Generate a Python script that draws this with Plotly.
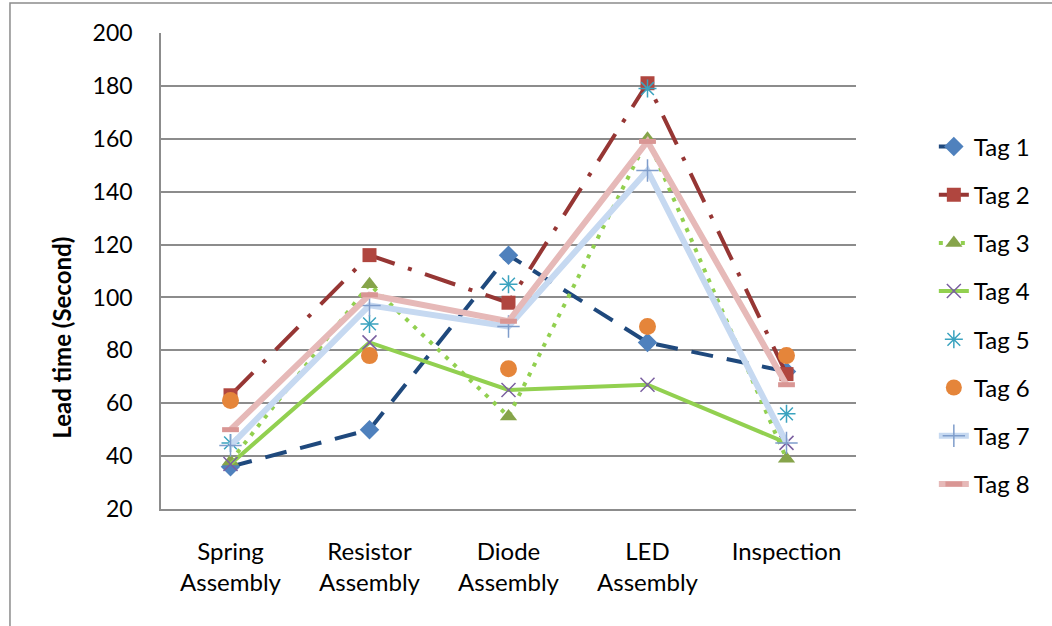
import plotly.graph_objects as go

# Process steps on the category axis
categories = ["Spring<br>Assembly", "Resistor<br>Assembly", "Diode<br>Assembly",
              "LED<br>Assembly", "Inspection"]

# Lead time (seconds) per tag at each step
tag1 = [36, 50, 116, 83, 72]
tag2 = [63, 116, 98, 181, 71]
tag3 = [38, 105, 55, 160, 39]
tag4 = [37, 83, 65, 67, 45]
tag5 = [45, 90, 105, 179, 56]
tag6 = [61, 78, 73, 89, 78]
tag7 = [44, 97, 89, 148, 45]
tag8 = [50, 101, 91, 159, 67]

y_ticks = [20, 40, 60, 80, 100, 120, 140, 160, 180, 200]

FONT = "Lato"
GRID = "#8c8c8c"

series = [
    dict(name="Tag 1", y=tag1, mode="lines+markers",
         line=dict(color="#1f497d", width=4, dash="22px,14px"),
         marker=dict(symbol="diamond", size=15, color="#4f81bd")),
    dict(name="Tag 2", y=tag2, mode="lines+markers",
         line=dict(color="#963634", width=4, dash="32px,14px,4px,14px"),
         marker=dict(symbol="square", size=14, color="#b0463f")),
    dict(name="Tag 3", y=tag3, mode="lines+markers",
         line=dict(color="#92d050", width=4, dash="4px,7px"),
         marker=dict(symbol="triangle-up", size=15, color="#86a44a")),
    dict(name="Tag 4", y=tag4, mode="lines+markers",
         line=dict(color="#92d050", width=4),
         marker=dict(symbol="x-thin-open", size=14, color="#7a5fa0",
                     line=dict(color="#7a5fa0", width=1.5))),
    dict(name="Tag 5", y=tag5, mode="markers",
         marker=dict(symbol="asterisk-open", size=15, color="#3ba3bf",
                     line=dict(color="#3ba3bf", width=1.5))),
    dict(name="Tag 6", y=tag6, mode="markers",
         marker=dict(symbol="circle", size=17, color="#e5853a")),
    dict(name="Tag 7", y=tag7, mode="lines+markers",
         line=dict(color="#c6d9f1", width=6),
         marker=dict(symbol="cross-thin-open", size=16, color="#7f9dcb",
                     line=dict(color="#7f9dcb", width=1.5))),
    dict(name="Tag 8", y=tag8, mode="lines+markers",
         line=dict(color="#e6b9b8", width=6),
         marker=dict(symbol="line-ew-open", size=12, color="#d99694",
                     line=dict(color="#d99694", width=5))),
]

fig = go.Figure()
for i, s in enumerate(series):
    fig.add_trace(go.Scatter(x=categories, legendgroup=f"g{i}", **s))

fig.update_layout(
    width=1052, height=626,
    margin=dict(l=161, r=196, t=33, b=117),
    paper_bgcolor="white", plot_bgcolor="white",
    font=dict(family=FONT, size=23, color="#000000"),
    showlegend=True,
    legend=dict(x=1.112, y=0.808, xanchor="left", yanchor="top",
                font=dict(family=FONT, size=24, color="#000000"),
                tracegroupgap=14, bgcolor="rgba(0,0,0,0)"),
    xaxis=dict(type="category", range=[-0.5, 4.5], showgrid=False,
               showline=True, linecolor=GRID, linewidth=1.5,
               ticks="", ticklabelstandoff=20,
               tickfont=dict(family=FONT, size=24)),
    yaxis=dict(range=[20, 200], tickvals=y_ticks, showgrid=True,
               gridcolor=GRID, gridwidth=1.5, zeroline=False,
               showline=True, linecolor=GRID, linewidth=1.5,
               ticks="", ticklabelstandoff=22,
               tickfont=dict(family=FONT, size=23)),
    annotations=[dict(text="<b>Lead time (Second)</b>", textangle=-90,
                      xref="paper", yref="paper", x=-0.1424, y=0.36,
                      xanchor="center", yanchor="middle", showarrow=False,
                      font=dict(family=FONT, size=24, color="#000000"))],
    shapes=[dict(type="rect", xref="paper", yref="paper",
                 x0=-0.2173, x1=1.30, y0=-0.30, y1=1.063,
                 line=dict(color=GRID, width=1.5), layer="below")],
)

fig.write_html("out.html")
